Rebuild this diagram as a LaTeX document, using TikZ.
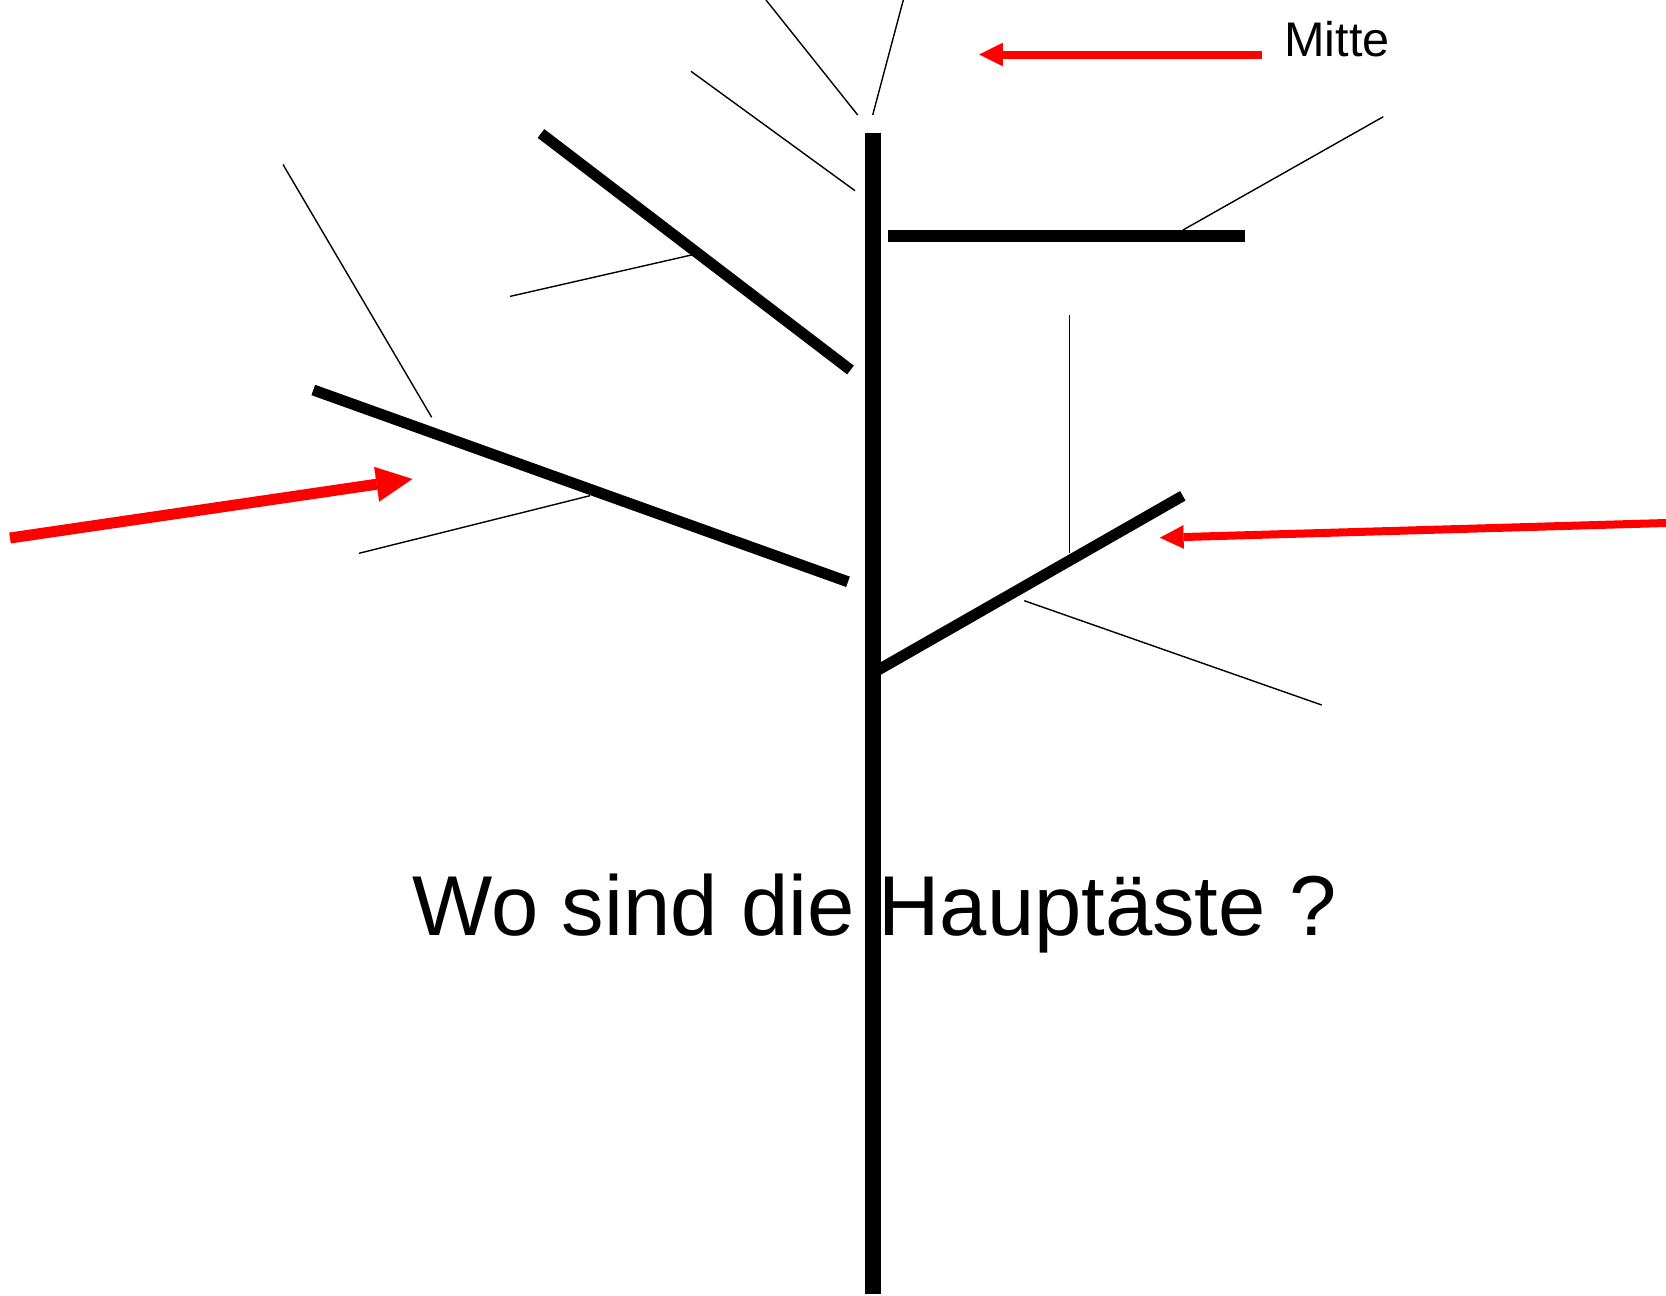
\documentclass[tikz,border=0pt]{standalone}
\usepackage{fontspec}
\setmainfont{Liberation Sans}
\usetikzlibrary{arrows.meta}
\begin{document}
\begin{tikzpicture}[x=0.5pt,y=-0.5pt,
  trunkline/.style={line width=7.85pt},
  bough/.style={line width=5.5pt},
  flatbough/.style={line width=6.15pt},
  twig/.style={line width=0.7pt},
  redsmall/.style={draw=red, line width=4pt, -{Triangle[length=11.8pt,width=11.7pt,line width=0.01pt]}, red},
  redbig/.style={draw=red, line width=5.5pt, -{Triangle[length=18pt,width=17.5pt,line width=0.01pt]}, red},
  bigtext/.style={inner sep=0pt, anchor=base west, font=\fontsize{42.5pt}{50pt}\selectfont},
  smalltext/.style={inner sep=0pt, anchor=base west, font=\fontsize{24.3pt}{29pt}\selectfont},
]
\useasboundingbox (0,0) rectangle (1666,1296);
% trunk and main branches
\coordinate (trunkTop) at (872.8,132.7);
\coordinate (trunkBot) at (872.8,1294);
\coordinate (hA) at (887.7,236.2);
\coordinate (hB) at (1245,236.2);
\coordinate (ulA) at (541,133.5);
\coordinate (ulB) at (850.5,370);
\coordinate (lA) at (313.3,390);
\coordinate (lB) at (848,581.8);
\coordinate (rA) at (872.8,673);
\coordinate (rB) at (1182.8,495.8);
\draw[trunkline] (trunkTop) -- (trunkBot);
\draw[flatbough] (hA) -- (hB);
\draw[bough] (ulA) -- (ulB);
\draw[bough] (lA) -- (lB);
\draw[bough] (rA) -- (rB);
% twigs
\coordinate (tA1) at (766,0);      \coordinate (tA2) at (857.7,115);
\coordinate (tB1) at (903.3,0);    \coordinate (tB2) at (872.7,115);
\coordinate (tC1) at (691,71.3);   \coordinate (tC2) at (855,190.7);
\coordinate (tD1) at (510,296.4);  \coordinate (tD2) at (703.3,252.3);
\coordinate (tE1) at (283,164.5);  \coordinate (tE2) at (431.7,417.3);
\coordinate (tF1) at (359,553.3);  \coordinate (tF2) at (590,495.7);
\coordinate (tG1) at (1069.3,315); \coordinate (tG2) at (1069.3,553.3);
\coordinate (tH1) at (1024.3,600.7); \coordinate (tH2) at (1321.7,705);
\coordinate (tI1) at (1183,230);   \coordinate (tI2) at (1383.3,116.7);
\foreach \t in {A,B,C,D,E,F,G,H,I}{\draw[twig] (t\t1) -- (t\t2);}
% red arrows
\coordinate (mS) at (1261.7,54.5); \coordinate (mE) at (979.3,54.5);
\coordinate (lS) at (10,538);      \coordinate (lE) at (412.3,479);
\coordinate (rS) at (1666,523);    \coordinate (rE) at (1160,537.7);
\draw[redsmall] (mS) -- (mE);
\draw[redbig] (lS) -- (lE);
\draw[redsmall] (rS) -- (rE);
% texts
\node[smalltext] (mitte) at (1284,56.7) {Mitte};
\node[bigtext] (frage) at (412,935) {Wo sind die Hauptäste ?};
\end{tikzpicture}
\end{document}
